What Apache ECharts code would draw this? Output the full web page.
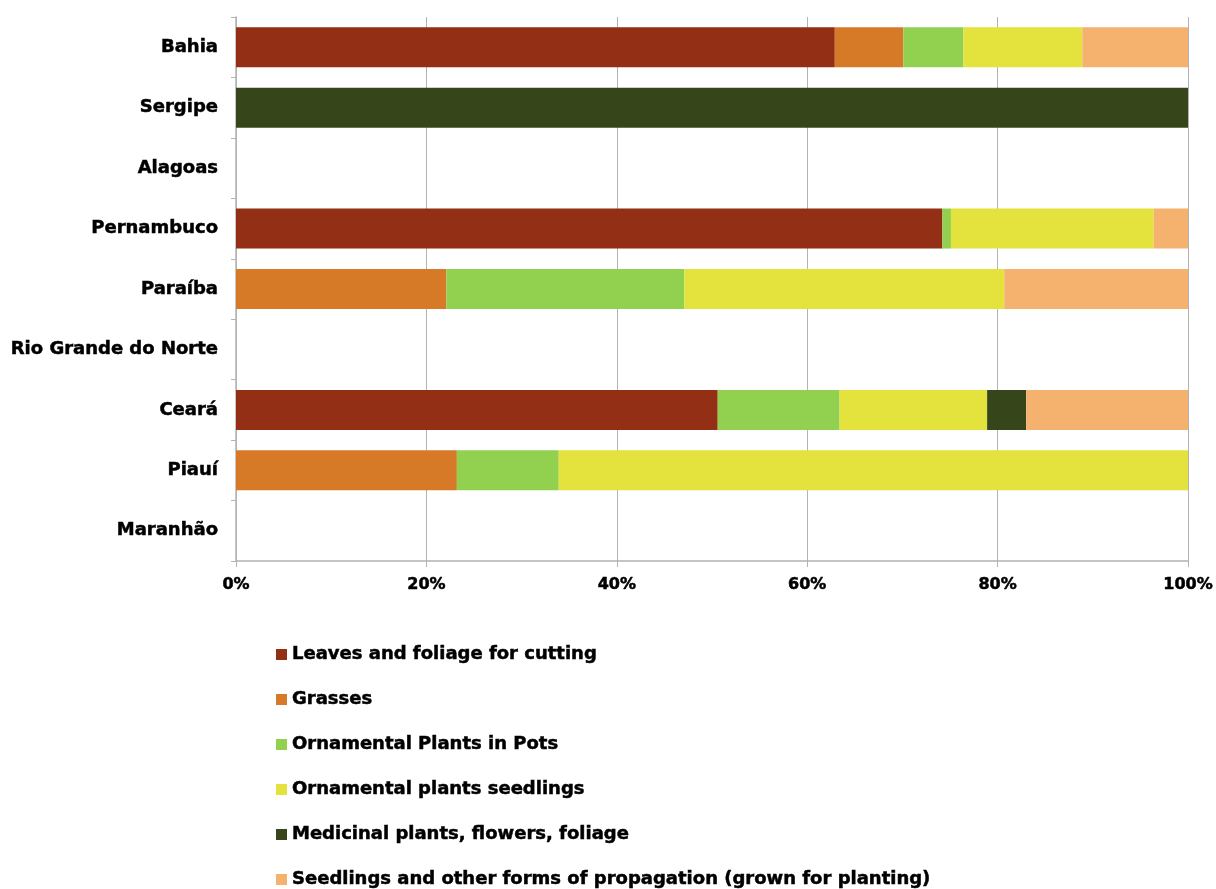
<!DOCTYPE html>
<html>
<head>
<meta charset="utf-8">
<title>Floriculture production by state</title>
<script src="https://cdn.jsdelivr.net/npm/echarts@6/dist/echarts.min.js"></script>
<style>
  html, body { margin: 0; padding: 0; background: #ffffff; }
  #chart { width: 1216px; height: 889px; }
</style>
</head>
<body>
<div id="chart"></div>
<script>
// States, listed bottom to top on the category axis
const states = ['Maranhão', 'Piauí', 'Ceará', 'Rio Grande do Norte', 'Paraíba', 'Pernambuco', 'Alagoas', 'Sergipe', 'Bahia'];

// Share of each product group per state (%)
const leavesFoliage   = [0, 0,    50.6, 0, 0,    74.2, 0, 0,   62.9];
const grasses         = [0, 23.2, 0,    0, 22.1, 0,    0, 0,   7.2];
const plantsInPots    = [0, 10.7, 12.8, 0, 25.0, 0.9,  0, 0,   6.3];
const plantSeedlings  = [0, 66.1, 15.5, 0, 33.6, 21.3, 0, 0,   12.5];
const medicinal       = [0, 0,    4.1,  0, 0,    0,    0, 100, 0];
const propagation     = [0, 0,    17.0, 0, 19.3, 3.6,  0, 0,   11.1];

const seriesNames = [
  'Leaves and foliage for cutting',
  'Grasses',
  'Ornamental Plants in Pots',
  'Ornamental plants seedlings',
  'Medicinal plants, flowers, foliage',
  'Seedlings and other forms of propagation (grown for planting)'
];
const seriesData = [leavesFoliage, grasses, plantsInPots, plantSeedlings, medicinal, propagation];
const seriesColors = ['#922F15', '#D67A27', '#92D050', '#E4E23C', '#36461A', '#F5B26F'];

// Heavy, wide sans for every label
const labelFont = {
  fontFamily: '"DejaVu Sans", sans-serif',
  fontWeight: 'bold',
  fontSize: 18,
  color: '#000',
  textBorderColor: '#000',
  textBorderWidth: 0.5
};

const chart = echarts.init(document.getElementById('chart'), null, { renderer: 'canvas' });

chart.setOption({
  backgroundColor: '#ffffff',
  animation: false,
  color: seriesColors,
  grid: { left: 236, right: 28, top: 17, bottom: 328, containLabel: false },
  legend: {
    orient: 'vertical',
    left: 271,
    top: 640,
    height: 260,
    itemWidth: 11,
    itemHeight: 11,
    itemGap: 26,
    icon: 'rect',
    textStyle: Object.assign({}, labelFont, { lineHeight: 19 }),
    data: seriesNames
  },
  xAxis: {
    type: 'value',
    min: 0,
    max: 100,
    interval: 20,
    axisLine: { show: true, lineStyle: { color: '#b3b3b3', width: 1.5 } },
    axisTick: { show: true, length: 6, lineStyle: { color: '#b3b3b3' } },
    splitLine: { show: true, lineStyle: { color: '#b3b3b3', width: 1 } },
    axisLabel: Object.assign({ formatter: '{value}%', margin: 16 }, labelFont, { fontSize: 16 })
  },
  yAxis: {
    type: 'category',
    data: states,
    axisLine: { show: true, lineStyle: { color: '#b3b3b3', width: 1.5 } },
    axisTick: { show: true, length: 5, lineStyle: { color: '#b3b3b3' } },
    axisLabel: Object.assign({ margin: 18 }, labelFont)
  },
  series: seriesNames.map((name, i) => ({
    name: name,
    type: 'bar',
    stack: 'total',
    barWidth: 40,
    data: seriesData[i],
    itemStyle: { color: seriesColors[i] },
    emphasis: { disabled: true }
  }))
});
</script>
</body>
</html>
